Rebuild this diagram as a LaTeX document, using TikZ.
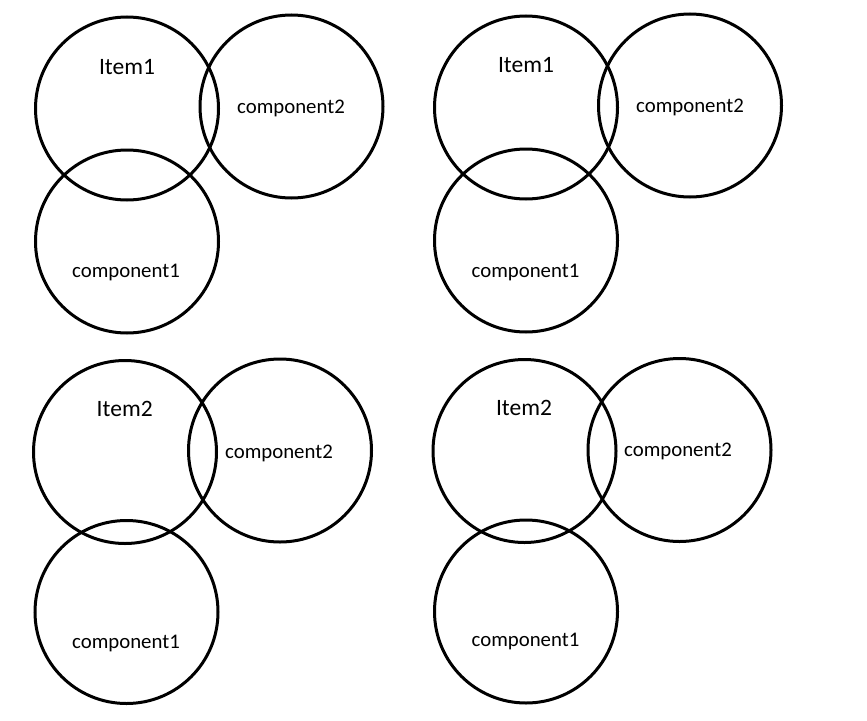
\documentclass[tikz,border=0pt]{standalone}
\usepackage{fontspec}
\setmainfont{Carlito}

\tikzstyle{ring} = [circle, draw, line width=3pt, minimum size=183pt, inner sep=0pt]
\tikzstyle{itemtag} = [anchor=base, inner sep=0pt, font=\fontsize{23.5}{26}\selectfont]
\tikzstyle{parttag} = [anchor=base, inner sep=0pt, font=\fontsize{20.8}{24}\selectfont]

\begin{document}
\begin{tikzpicture}[x=1pt, y=-1pt]
\useasboundingbox (0,0) rectangle (867,720);

% top left
\node[ring] (itemA) at (127,108.5) {};
\node[ring] (compA2) at (291.5,106.5) {};
\node[ring] (compA1) at (127,241.5) {};
\node[itemtag] (itemA-txt) at (127,74) {Item1};
\node[parttag] (compA2-txt) at (291,113) {component2};
\node[parttag] (compA1-txt) at (126,277) {component1};

% top right
\node[ring] (itemB) at (526,107.5) {};
\node[ring] (compB2) at (690,105.5) {};
\node[ring] (compB1) at (526,240.5) {};
\node[itemtag] (itemB-txt) at (526,72) {Item1};
\node[parttag] (compB2-txt) at (690,112) {component2};
\node[parttag] (compB1-txt) at (525.5,277) {component1};

% bottom left
\node[ring] (itemC) at (125,452) {};
\node[ring] (compC2) at (280,450.5) {};
\node[ring] (compC1) at (126.5,612) {};
\node[itemtag] (itemC-txt) at (124.7,416) {Item2};
\node[parttag] (compC2-txt) at (279,458) {component2};
\node[parttag] (compC1-txt) at (126,648) {component1};

% bottom right
\node[ring] (itemD) at (524.5,451) {};
\node[ring] (compD2) at (679.5,450) {};
\node[ring] (compD1) at (526,611.5) {};
\node[itemtag] (itemD-txt) at (524,415) {Item2};
\node[parttag] (compD2-txt) at (678,456) {component2};
\node[parttag] (compD1-txt) at (525.5,646) {component1};
\end{tikzpicture}
\end{document}
